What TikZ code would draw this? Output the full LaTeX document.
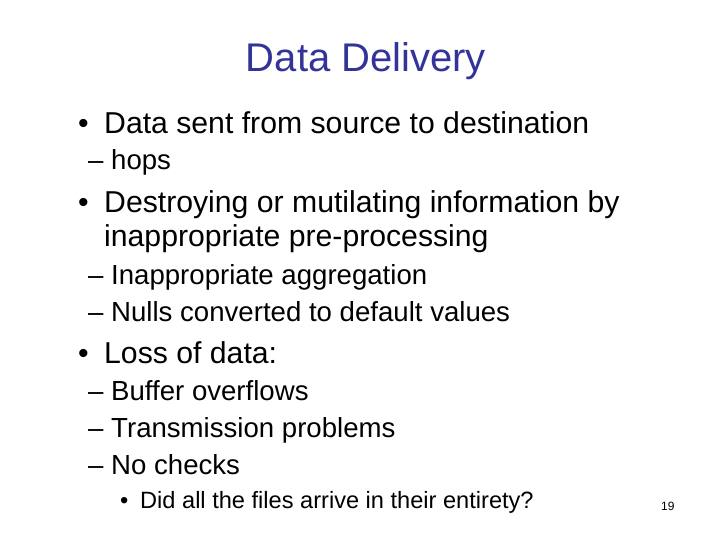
\documentclass[tikz,border=0pt]{standalone}
\usepackage{fontspec}
\setmainfont{Liberation Sans}
\definecolor{titleblue}{RGB}{51,51,153}
\begin{document}
\begin{tikzpicture}[x=1pt,y=1pt,
  lone/.style={anchor=base west,inner sep=0pt,font=\fontsize{30.2}{32}\selectfont},
  ltwo/.style={anchor=base west,inner sep=0pt,font=\fontsize{27.6}{29}\selectfont},
  lthree/.style={anchor=base west,inner sep=0pt,font=\fontsize{23.6}{25}\selectfont}]
\useasboundingbox (0,0) rectangle (720,-540);
\node[anchor=base,inner sep=0pt,text=titleblue,font=\fontsize{40}{44}\selectfont] (title) at (366,-72) {Data Delivery};
\node[lone] (b1) at (78,-134) {•};
\node[lone] (t1) at (104,-134) {Data sent from source to destination};
\node[ltwo] (s1) at (88,-170) {– hops};
\node[lone] (b2) at (78,-213) {•};
\node[lone] (t2) at (104,-213) {Destroying or mutilating information by};
\node[lone] (t2b) at (104,-247) {inappropriate pre-processing};
\node[ltwo] (s2) at (88,-284) {– Inappropriate aggregation};
\node[ltwo] (s3) at (88,-321) {– Nulls converted to default values};
\node[lone] (b3) at (78,-363) {•};
\node[lone] (t3) at (104,-363) {Loss of data:};
\node[ltwo] (s4) at (88,-400) {– Buffer overflows};
\node[ltwo] (s5) at (88,-437) {– Transmission problems};
\node[ltwo] (s6) at (88,-474) {– No checks};
\node[lthree] (b4) at (120,-508) {•};
\node[lthree] (t4) at (140,-508) {Did all the files arrive in their entirety?};
\node[anchor=base west,inner sep=0pt,font=\fontsize{12}{14}\selectfont] (pg) at (661,-510) {19};
\end{tikzpicture}
\end{document}
